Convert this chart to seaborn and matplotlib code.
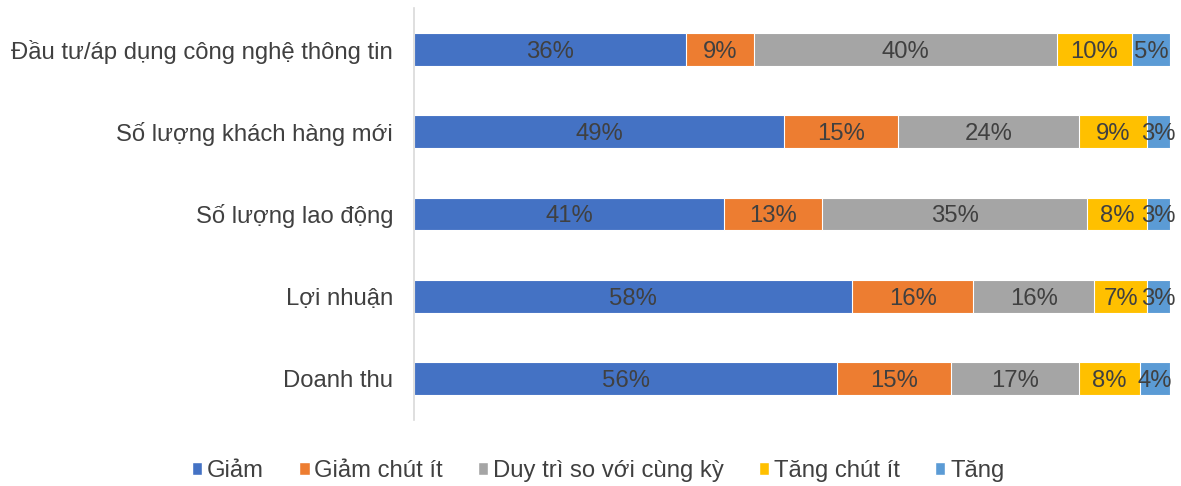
import numpy as np
import pandas as pd
import matplotlib
matplotlib.use("Agg")
import matplotlib.pyplot as plt
import seaborn as sns
from matplotlib.patches import Patch

categories = ["Đầu tư/áp dụng công nghệ thông tin", "Số lượng khách hàng mới",
              "Số lượng lao động", "Lợi nhuận", "Doanh thu"]
series_names = ["Giảm", "Giảm chút ít", "Duy trì so với cùng kỳ", "Tăng chút ít", "Tăng"]
giam = [36, 49, 41, 58, 56]
giam_chut_it = [9, 15, 13, 16, 15]
duy_tri = [40, 24, 35, 16, 17]
tang_chut_it = [10, 9, 8, 7, 8]
tang = [5, 3, 3, 3, 4]
colors = ["#4472C4", "#ED7D31", "#A5A5A5", "#FFC000", "#5B9BD5"]

series = [giam, giam_chut_it, duy_tri, tang_chut_it, tang]
vals = np.array(series, dtype=float)
cum = np.cumsum(vals, axis=0)

sns.set_theme(style="white")
plt.rcParams['font.family'] = ['Liberation Sans', 'DejaVu Sans']
txt = "#404040"
fs = 17.2

fig = plt.figure(figsize=(11.81, 4.86), dpi=100)
ax = fig.add_axes([414/1181, 1 - 420/486, (1170-414)/1181, (420-8)/486])

for i in range(len(series) - 1, -1, -1):
    df = pd.DataFrame({"cat": categories, "val": cum[i]})
    sns.barplot(data=df, y="cat", x="val", orient="h", color=colors[i],
                saturation=1, width=0.4, edgecolor="white", linewidth=0.8, ax=ax)

for i in range(len(series)):
    for j, c in enumerate(categories):
        left = cum[i][j] - vals[i][j]
        ax.text(left + vals[i][j] / 2, j, f"{vals[i][j]:.0f}%", ha="center",
                va="center_baseline", fontsize=fs, color=txt)

ax.set_xlim(0, 100)
ax.set_ylim(4.5, -0.5)
ax.set_xlabel("")
ax.set_ylabel("")
ax.set_xticks([])
ax.tick_params(axis="y", length=0, pad=15, labelsize=fs, labelcolor=txt)
for s in ["top", "right", "bottom"]:
    ax.spines[s].set_visible(False)
ax.spines["left"].set_color("#D9D9D9")
ax.spines["left"].set_linewidth(1.2)

handles = [Patch(facecolor=c, label=n) for c, n in zip(colors, series_names)]
fig.legend(handles=handles, loc="center", bbox_to_anchor=(598/1181, 1 - 471/486), ncol=5,
           frameon=False, fontsize=fs, labelcolor=txt, handlelength=0.45, handleheight=0.45,
           handletextpad=0.2, columnspacing=1.45)

fig.savefig("out.png", dpi=100)
